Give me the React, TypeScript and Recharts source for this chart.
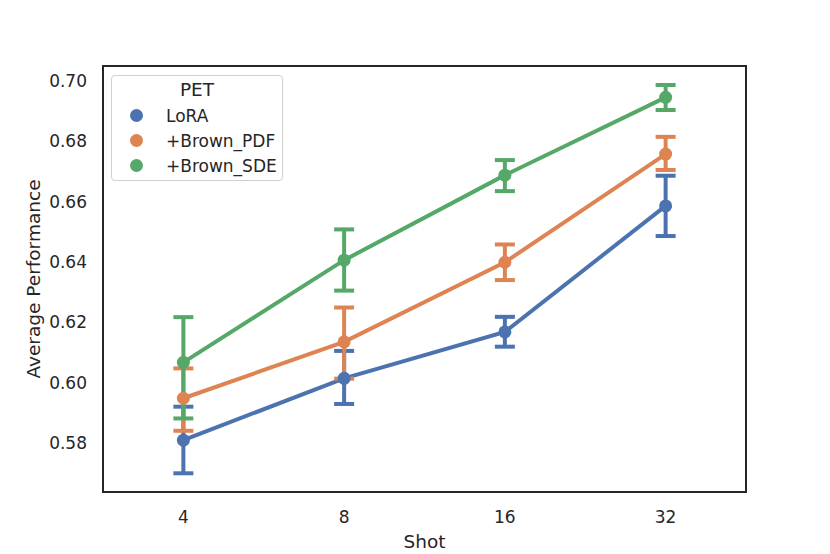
import React from "react";
import {
  ErrorBar, Line, LineChart, ReferenceArea, XAxis, YAxis,
} from "recharts";

// seaborn "deep" palette + matplotlib-ish dark ink
const INK = "#262626";
const BLUE = "#4C72B0";
const ORANGE = "#DD8452";
const GREEN = "#55A868";
const FONT = "'DejaVu Sans', sans-serif";
const TICK_FS = 17;
const LABEL_FS = 18.5;

const SHOTS = ["4", "8", "16", "32"];
const Y_TICKS = [0.58, 0.6, 0.62, 0.64, 0.66, 0.68, 0.7];
const Y_DOMAIN: [number, number] = [0.5637, 0.705];

// mean + CI bounds
const LORA = [0.5809, 0.6014, 0.6168, 0.6586];
const LORA_LO = [0.5699, 0.5929, 0.6119, 0.6486];
const LORA_HI = [0.592, 0.6105, 0.6218, 0.6686];

const PDF = [0.5948, 0.6135, 0.6399, 0.6758];
const PDF_LO = [0.584, 0.6013, 0.634, 0.6705];
const PDF_HI = [0.6047, 0.6249, 0.6458, 0.6815];

const SDE = [0.6067, 0.6406, 0.6688, 0.6946];
const SDE_LO = [0.5881, 0.6305, 0.6635, 0.6904];
const SDE_HI = [0.6217, 0.6508, 0.6738, 0.6987];

const SERIES = [
  { key: "lora", name: "LoRA", color: BLUE, mean: LORA, lo: LORA_LO, hi: LORA_HI },
  { key: "pdf", name: "+Brown_PDF", color: ORANGE, mean: PDF, lo: PDF_LO, hi: PDF_HI },
  { key: "sde", name: "+Brown_SDE", color: GREEN, mean: SDE, lo: SDE_LO, hi: SDE_HI },
];

const rows = SHOTS.map((_, i) => {
  const r: Record<string, any> = { idx: i };
  SERIES.forEach((s) => {
    r[s.key] = s.mean[i];
    r[s.key + "Err"] = [s.mean[i] - s.lo[i], s.hi[i] - s.mean[i]];
  });
  return r;
});

function PetLegend() {
  return (
    <div
      style={{
        position: "absolute", left: 111, top: 75, width: 172, height: 106,
        border: "1px solid #d0d0d0", borderRadius: 4, background: "rgba(255,255,255,0.8)",
        fontFamily: FONT, fontSize: TICK_FS, color: INK, boxSizing: "border-box",
      }}
    >
      <div style={{ position: "absolute", left: 0, width: "100%", top: 2, textAlign: "center", lineHeight: "24px", fontSize: LABEL_FS }}>PET</div>
      {SERIES.map((s, i) => (
        <div key={s.key} style={{ position: "absolute", left: 0, top: 29 + i * 25, height: 22, lineHeight: "22px", whiteSpace: "nowrap" }}>
          <span style={{ position: "absolute", left: 18, top: 4, width: 13, height: 13, borderRadius: 7, background: s.color }} />
          <span style={{ position: "absolute", left: 54 }}>{s.name}</span>
        </div>
      ))}
    </div>
  );
}

export default function App() {
  return (
    <div style={{ position: "absolute", left: 0, top: 0, width: 830, height: 554, background: "#fff" }}>
      <LineChart width={830} height={554} data={rows} margin={{ top: 66, right: 84, bottom: 0, left: 0 }}>
        <XAxis
          dataKey="idx" type="number" domain={[-0.5, 3.5]} ticks={[0, 1, 2, 3]}
          tickFormatter={(i: number) => SHOTS[i]} height={62}
          axisLine={false} tickLine={false} tickSize={0} tickMargin={19}
          tick={{ fontSize: TICK_FS, fill: INK, fontFamily: FONT }}
          label={{
            content: ({ viewBox }: any) => (
              <text x={viewBox.x + viewBox.width / 2} y={viewBox.y + 49} textAnchor="middle"
                dominantBaseline="central" fontSize={LABEL_FS} fill={INK} fontFamily={FONT}>Shot</text>
            ),
          }}
        />
        <YAxis
          type="number" domain={Y_DOMAIN} ticks={Y_TICKS} allowDataOverflow width={103}
          tickFormatter={(v: number) => v.toFixed(2)}
          axisLine={false} tickLine={false} tickSize={0} tickMargin={16}
          tick={{ fontSize: TICK_FS, fill: INK, fontFamily: FONT }}
          label={{
            content: ({ viewBox }: any) => {
              const x = viewBox.x + 33;
              const y = viewBox.y + viewBox.height / 2;
              return (
                <text x={x} y={y} transform={`rotate(-90 ${x} ${y})`} textAnchor="middle"
                  dominantBaseline="central" fontSize={LABEL_FS} fill={INK} fontFamily={FONT}>
                  Average Performance
                </text>
              );
            },
          }}
        />
        {SERIES.map((s) => (
          <Line
            key={s.key} dataKey={s.key} name={s.name} stroke={s.color} strokeWidth={4}
            dot={{ r: 6.5, fill: s.color, stroke: "none" }} activeDot={false}
            isAnimationActive={false}
          >
            <ErrorBar dataKey={s.key + "Err"} direction="y" width={10} stroke={s.color} strokeWidth={4}
              isAnimationActive={false} />
          </Line>
        ))}
        <ReferenceArea x1={-0.5} x2={3.5} y1={Y_DOMAIN[0]} y2={Y_DOMAIN[1]} fill="none"
          stroke={INK} strokeWidth={2} ifOverflow="visible" />
      </LineChart>
      <PetLegend />
    </div>
  );
}
